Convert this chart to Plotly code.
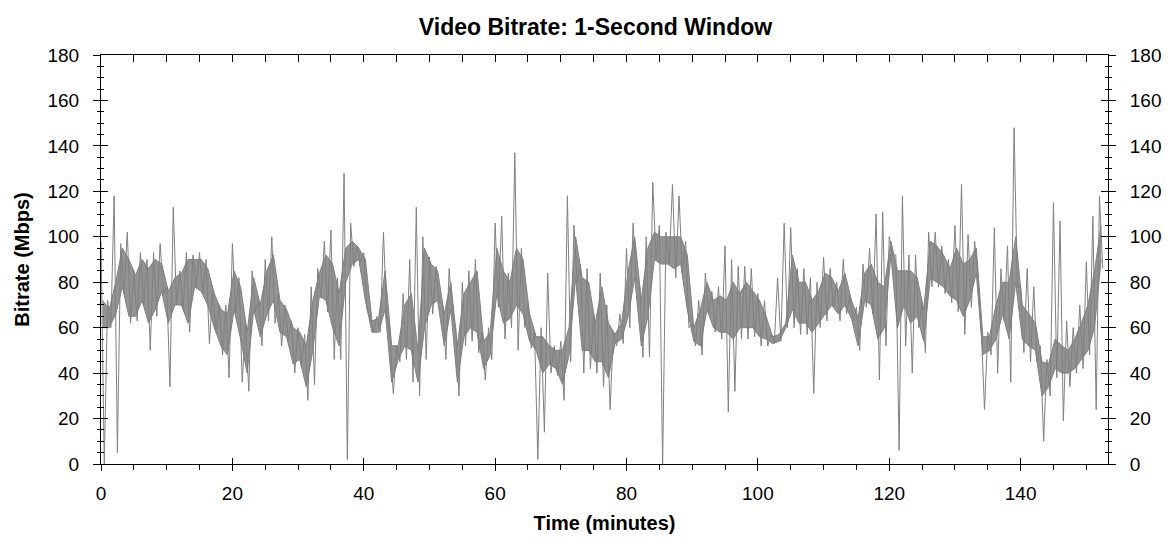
import plotly.graph_objects as go

# Time bins (minutes):
# hi / lo  = extreme top and bottom reached by the trace in each minute (incl. spikes)
# band_top / band_bot = edges of the dense core band in each minute
minutes = list(range(153))
hi = [98, 72, 118, 97, 102, 85, 93, 90, 93, 97,
      78, 113, 85, 93, 92, 93, 90, 76, 70, 70,
      97, 82, 62, 85, 72, 90, 100, 75, 70, 63,
      60, 57, 78, 86, 98, 103, 82, 128, 106, 96,
      93, 64, 65, 102, 55, 52, 75, 90, 113, 100,
      91, 87, 70, 86, 60, 80, 85, 90, 58, 60,
      106, 109, 84, 137, 95, 70, 58, 60, 84, 52,
      54, 118, 105, 88, 86, 66, 84, 70, 58, 66,
      95, 106, 78, 100, 124, 105, 102, 123, 118, 98,
      62, 72, 84, 76, 78, 96, 90, 87, 87, 86,
      75, 72, 57, 82, 106, 104, 86, 86, 82, 80,
      91, 86, 80, 90, 74, 69, 88, 95, 110, 111,
      100, 92, 118, 92, 92, 71, 102, 102, 96, 90,
      105, 123, 101, 98, 60, 58, 104, 86, 96, 148,
      78, 86, 78, 52, 46, 115, 107, 63, 60, 70,
      89, 109, 118]
lo = [0, 60, 5, 75, 62, 63, 70, 50, 65, 75,
      34, 70, 68, 58, 78, 75, 53, 58, 48, 38,
      66, 36, 32, 67, 52, 63, 62, 52, 55, 40,
      43, 28, 35, 73, 67, 46, 46, 2, 87, 89,
      68, 58, 58, 66, 31, 45, 46, 36, 30, 46,
      66, 71, 46, 66, 30, 52, 54, 49, 37, 46,
      69, 55, 60, 50, 60, 51, 2, 14, 40, 39,
      28, 45, 80, 40, 42, 40, 34, 24, 52, 53,
      60, 80, 47, 47, 90, 0, 88, 82, 84, 60,
      52, 48, 66, 58, 55, 23, 32, 55, 55, 56,
      52, 52, 53, 54, 60, 60, 57, 57, 31, 60,
      63, 69, 63, 66, 63, 50, 69, 66, 37, 52,
      92, 6, 52, 40, 60, 49, 78, 78, 75, 71,
      67, 57, 69, 82, 24, 48, 40, 63, 36, 78,
      49, 45, 45, 10, 30, 38, 19, 34, 40, 42,
      48, 24, 86]
band_top = [72, 68, 80, 95, 90, 83, 90, 86, 90, 88,
            76, 82, 84, 90, 90, 90, 86, 75, 68, 66,
            85, 78, 58, 82, 70, 85, 92, 72, 68, 60,
            58, 52, 72, 84, 92, 88, 75, 95, 98, 95,
            90, 63, 64, 85, 52, 52, 70, 75, 50, 95,
            88, 85, 66, 80, 52, 75, 80, 85, 54, 58,
            95, 85, 80, 95, 90, 66, 56, 56, 52, 50,
            50, 60, 100, 82, 80, 62, 78, 62, 57, 62,
            85, 100, 72, 95, 102, 100, 100, 100, 100, 92,
            60, 68, 80, 72, 74, 72, 80, 75, 80, 76,
            72, 65, 56, 57, 62, 92, 80, 80, 72, 76,
            84, 82, 76, 84, 72, 64, 84, 88, 80, 78,
            98, 85, 85, 85, 82, 68, 98, 96, 92, 86,
            95, 88, 90, 95, 56, 56, 70, 80, 80, 100,
            70, 66, 62, 45, 44, 55, 52, 50, 55, 62,
            70, 85, 105]
band_bot = [60, 60, 66, 78, 65, 65, 72, 62, 68, 76,
            62, 70, 70, 62, 78, 76, 70, 60, 52, 48,
            68, 55, 40, 68, 56, 66, 72, 58, 56, 44,
            46, 34, 50, 74, 72, 60, 52, 80, 88, 90,
            72, 58, 58, 68, 36, 46, 52, 50, 36, 60,
            70, 72, 52, 68, 36, 56, 60, 58, 42, 48,
            75, 62, 64, 70, 66, 54, 50, 40, 44, 42,
            35, 48, 82, 50, 50, 45, 45, 38, 53, 55,
            65, 82, 52, 65, 90, 88, 88, 86, 88, 68,
            54, 52, 68, 60, 58, 58, 55, 60, 60, 60,
            56, 55, 53, 54, 60, 68, 62, 62, 58, 62,
            66, 70, 66, 70, 64, 52, 72, 70, 55, 60,
            92, 60, 70, 62, 65, 54, 82, 80, 78, 74,
            72, 65, 72, 84, 48, 50, 55, 66, 55, 80,
            55, 52, 50, 30, 34, 42, 40, 40, 42, 46,
            50, 60, 90]

x_ticks = [0, 20, 40, 60, 80, 100, 120, 140]
y_ticks = [0, 20, 40, 60, 80, 100, 120, 140, 160, 180]

FONT = "Arial, Liberation Sans, sans-serif"
LINE = "#808080"

xs, ys = [], []
for m, h, l in zip(minutes, hi, lo):
    xs += [m, m + 0.5]
    ys += [h, l]
xc = [m + 0.25 for m in minutes]

fig = go.Figure()
fig.add_trace(go.Scatter(x=xc, y=band_top, mode="lines", line=dict(color=LINE, width=1),
                         xaxis="x", yaxis="y", showlegend=False, hoverinfo="skip"))
fig.add_trace(go.Scatter(x=xc, y=band_bot, mode="lines", line=dict(color=LINE, width=1),
                         fill="tonexty", fillcolor="rgba(128,128,128,0.85)",
                         xaxis="x", yaxis="y", showlegend=False, hoverinfo="skip"))
fig.add_trace(go.Scatter(x=xs, y=ys, mode="lines", line=dict(color=LINE, width=1),
                         xaxis="x", yaxis="y", showlegend=False, hoverinfo="skip"))
for xa, ya in [("x2", "y2"), ("x3", "y3"), ("x", "y4")]:
    fig.add_trace(go.Scatter(x=[None], y=[None], xaxis=xa, yaxis=ya,
                             showlegend=False, hoverinfo="skip"))

XR = [0, 153.3]
YR = [0, 180]
tickfont = dict(family=FONT, size=19, color="black")
titlefont = dict(family=FONT, size=20, color="black")

base_x = dict(range=XR, showgrid=False, zeroline=False, tickmode="array",
              tickvals=x_ticks, tickcolor="black", linecolor="black", linewidth=1)
base_y = dict(range=YR, showgrid=False, zeroline=False, tickmode="array",
              tickvals=y_ticks, tickcolor="black", linecolor="black", linewidth=1)

fig.update_layout(
    width=1175, height=550,
    margin=dict(l=93, r=75, t=47, b=94),
    paper_bgcolor="white", plot_bgcolor="white",
    title=dict(text="<b>Video Bitrate: 1-Second Window</b>", x=0.5, xanchor="center",
               y=1 - 19 / 550, yanchor="middle", font=dict(family=FONT, size=23, color="black")),
    xaxis=dict(**base_x, side="bottom", anchor="y", showline=True, ticks="outside", ticklen=6,
               minor=dict(dtick=5, tick0=0, ticks="outside", ticklen=5, tickcolor="black"),
               tickfont=tickfont, ticklabelstandoff=6,
               title=dict(text="<b>Time (minutes)</b>", standoff=13, font=titlefont)),
    xaxis2=dict(**base_x, overlaying="x", side="bottom", anchor="y", showline=False,
                ticks="inside", ticklen=6, showticklabels=False),
    xaxis3=dict(**base_x, overlaying="x", side="top", anchor="y", showline=True,
                ticks="inside", ticklen=7, showticklabels=False,
                minor=dict(dtick=5, tick0=0, ticks="inside", ticklen=7, tickcolor="black")),
    yaxis=dict(**base_y, side="left", anchor="x", showline=True, ticks="outside", ticklen=7,
               minor=dict(dtick=5, tick0=0, ticks="outside", ticklen=3, tickcolor="black"),
               tickfont=tickfont, ticklabelstandoff=10,
               title=dict(text="<b>Bitrate (Mbps)</b>", standoff=12, font=titlefont)),
    yaxis2=dict(**base_y, overlaying="y", side="left", anchor="x", showline=False,
                ticks="inside", ticklen=7, showticklabels=False,
                minor=dict(dtick=5, tick0=0, ticks="inside", ticklen=3, tickcolor="black")),
    yaxis3=dict(**base_y, overlaying="y", side="right", anchor="x", showline=True,
                ticks="outside", ticklen=7, tickfont=tickfont, ticklabelstandoff=10,
                minor=dict(dtick=5, tick0=0, ticks="outside", ticklen=3, tickcolor="black")),
    yaxis4=dict(**base_y, overlaying="y", side="right", anchor="x", showline=False,
                ticks="inside", ticklen=7, showticklabels=False,
                minor=dict(dtick=5, tick0=0, ticks="inside", ticklen=3, tickcolor="black")),
)

fig.write_html("out.html")
